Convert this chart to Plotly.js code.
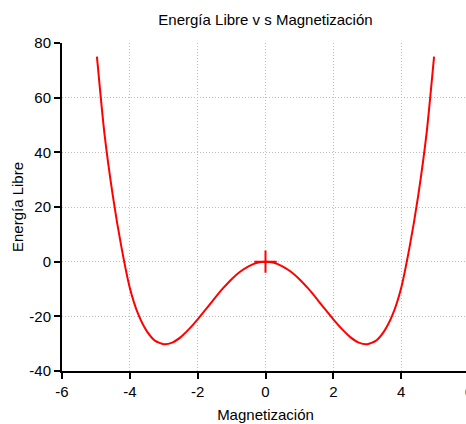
<!DOCTYPE html>
<html>
<head>
<meta charset="utf-8">
<script src="https://cdn.plot.ly/plotly-3.0.1.min.js"></script>
<style>
  html, body { margin: 0; padding: 0; overflow: hidden; background: #fff; }
  #chart { width: 480px; height: 424px; }
</style>
</head>
<body>
<div id="chart"></div>
<script>
// Free energy curve sampled over the magnetization range
const magnetizacion = [
  -4.97, -4.75, -4.5, -4.25, -4.0, -3.75, -3.5, -3.25, -3.0, -2.75, -2.5, -2.25,
  -2.0, -1.75, -1.5, -1.25, -1.0, -0.75, -0.5, -0.25, 0,
  0.25, 0.5, 0.75, 1.0, 1.25, 1.5, 1.75, 2.0, 2.25, 2.5, 2.75,
  3.0, 3.25, 3.5, 3.75, 4.0, 4.25, 4.5, 4.75, 4.97
];
const energiaLibre = [
  75, 47, 24, 5.5, -9.6, -19.3, -25.4, -29.0, -30.2, -29.6, -27.6, -24.6,
  -21.1, -17.3, -13.4, -9.7, -6.4, -3.7, -1.7, -0.4, 0,
  -0.4, -1.7, -3.7, -6.4, -9.7, -13.4, -17.3, -21.1, -24.6, -27.6, -29.6,
  -30.2, -29.0, -25.4, -19.3, -9.6, 5.5, 24, 47, 75
];
const xTicks = [-6, -4, -2, 0, 2, 4, 6];
const yTicks = [-40, -20, 0, 20, 40, 60, 80];

const mid = magnetizacion.indexOf(0);
const red = '#ff0000';
const fontFamily = 'Liberation Sans, Arial, Helvetica, sans-serif';

const traces = [
  {
    x: magnetizacion,
    y: energiaLibre,
    mode: 'lines',
    line: { color: red, width: 2, shape: 'spline', smoothing: 0.6 },
    hoverinfo: 'skip'
  },
  {
    x: [magnetizacion[mid]],
    y: [energiaLibre[mid]],
    mode: 'markers',
    marker: { symbol: 'cross-thin', size: 16, color: red, line: { color: red, width: 2 } },
    hoverinfo: 'skip'
  }
];

const axisCommon = {
  showline: true,
  linecolor: '#000',
  linewidth: 2,
  ticks: 'outside',
  ticklen: 6,
  tickwidth: 2,
  tickcolor: '#000',
  showgrid: true,
  gridcolor: '#bdbdbd',
  gridwidth: 1,
  griddash: '1px,2px',
  zeroline: false,
  tickfont: { family: fontFamily, size: 15, color: '#000' }
};

// plain hyphen-minus in the tick labels
const label = v => String(v);

const layout = {
  width: 480,
  height: 424,
  margin: { l: 62, r: 11, t: 43, b: 53 },
  paper_bgcolor: '#fff',
  plot_bgcolor: '#fff',
  showlegend: false,
  font: { family: fontFamily, size: 15, color: '#000' },
  title: {
    text: 'Energía Libre v s Magnetización',
    font: { family: fontFamily, size: 15, color: '#000' },
    x: 0.5,
    xref: 'paper',
    y: 0.953,
    yref: 'container',
    yanchor: 'middle'
  },
  xaxis: Object.assign({}, axisCommon, {
    range: [-6, 6],
    tickvals: xTicks,
    ticktext: xTicks.map(label),
    title: { text: 'Magnetización', font: { family: fontFamily, size: 15, color: '#000' }, standoff: 10 }
  }),
  yaxis: Object.assign({}, axisCommon, {
    range: [-40, 80],
    tickvals: yTicks,
    ticktext: yTicks.map(label),
    title: { text: 'Energía Libre', font: { family: fontFamily, size: 15, color: '#000' }, standoff: 2 }
  })
};

Plotly.newPlot('chart', traces, layout, { displayModeBar: false, staticPlot: true });
</script>
</body>
</html>
